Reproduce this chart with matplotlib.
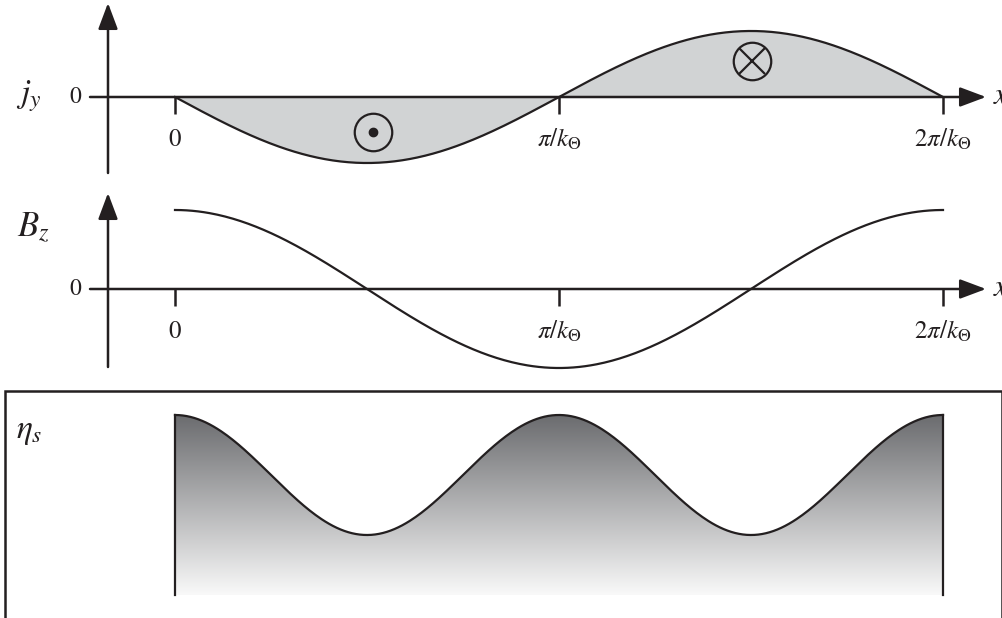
import numpy as np
import matplotlib
matplotlib.use("Agg")
import matplotlib.pyplot as plt
from matplotlib.colors import LinearSegmentedColormap
from matplotlib.patches import Polygon, Rectangle

plt.rcParams['mathtext.fontset'] = 'stix'
plt.rcParams['font.family'] = ['STIXGeneral', 'DejaVu Serif']

# --- chart content ---------------------------------------------------------
x_ticks = [0.0, 1.0, 2.0]                      # in units of pi/k_Theta
x_tick_labels = ['0', r'$\pi/k_{\Theta}$', r'$2\pi/k_{\Theta}$']
j_amplitude = 1.0                              # j_y = -A sin(k x)
b_amplitude = 1.0                              # B_z =  A cos(k x)
eta_amplitude = 1.0                            # eta_s ~ A cos(2 k x)
eta_floor = -2.0                               # lower edge of the shaded eta block
panel_names = [r'$j_y$', r'$B_z$', r'$\eta_s$']

INK = '#231f20'
FILL = '#d1d3d4'

W, H = 1003, 618
fig = plt.figure(figsize=(W / 100, H / 100), dpi=100)

# horizontal pixel mapping shared by every panel: x=0 -> 175px, 1 unit = 384px
X0, XU = 175.0, 384.0
def fx(px):
    return (px - X0) / XU

XLIM = (fx(0), fx(W))


def make_panel(top_px, bot_px, zero_px, unit_px):
    ax = fig.add_axes([0, 1 - bot_px / H, 1, (bot_px - top_px) / H])
    ax.set_xlim(*XLIM)
    ax.set_ylim((zero_px - bot_px) / unit_px, (zero_px - top_px) / unit_px)
    ax.axis('off')
    fy = lambda py: (zero_px - py) / unit_px
    return ax, fy


def draw_axes(ax, fy, y_tip_px, y_bot_px):
    arrow = dict(arrowstyle='-|>,head_length=0.8,head_width=0.3', mutation_scale=20,
                 color=INK, lw=1.8, shrinkA=0, shrinkB=0)
    xv = fx(108)
    ax.annotate('', xy=(xv, fy(y_tip_px)), xytext=(xv, fy(y_bot_px)), arrowprops=arrow)
    ax.annotate('', xy=(fx(986), 0), xytext=(fx(90), 0), arrowprops=arrow)
    ax.plot(x_ticks, [0] * len(x_ticks), ls='none', marker=3, ms=12, mew=1.8, color=INK)
    for xt, lab in zip(x_ticks, x_tick_labels):
        ax.annotate(lab, (xt, 0), xytext=(0, -31), textcoords='offset points',
                    ha='center', va='center', fontsize=18, color=INK)
    ax.text(fx(81), 0, '0', ha='right', va='center', fontsize=17, color=INK)
    ax.text(fx(993), 0, r'$x$', ha='left', va='center', fontsize=22, color=INK)


xs = np.linspace(0, 2, 400)

# --- current density j_y ---------------------------------------------------
ax1, fy1 = make_panel(0, 182, 97, 66)
jy = -j_amplitude * np.sin(np.pi * xs)
ax1.fill_between(xs, jy, 0, color=FILL, lw=0)
ax1.plot(xs, jy, color=INK, lw=1.6)
draw_axes(ax1, fy1, 3, 173)
ax1.text(fx(16), fy1(96), panel_names[0], ha='left', va='center', fontsize=24, color=INK)
# out-of-plane (dot) and into-plane (cross) symbols
ax1.plot(fx(373), fy1(132), marker='o', ms=27, mfc='none', mec=INK, mew=1.6)
ax1.plot(fx(373), fy1(132), marker='o', ms=6, color=INK)
ax1.plot(fx(752), fy1(61), marker='o', ms=27, mfc='none', mec=INK, mew=1.6)
ax1.plot(fx(752), fy1(61), marker='x', ms=19, mec=INK, mew=1.6)

# --- magnetic field B_z ----------------------------------------------------
ax2, fy2 = make_panel(182, 380, 289, 79)
bz = b_amplitude * np.cos(np.pi * xs)
ax2.plot(xs, bz, color=INK, lw=1.6)
draw_axes(ax2, fy2, 193, 367)
ax2.text(fx(17), fy2(236), panel_names[1], ha='left', va='baseline', fontsize=25, color=INK)

# --- resistivity eta_s -----------------------------------------------------
ax3, fy3 = make_panel(380, 618, 475, 60)
eta = eta_amplitude * np.cos(2 * np.pi * xs)
poly = np.vstack([np.column_stack([xs, eta]), [[2, eta_floor], [0, eta_floor]]])
clip = Polygon(poly, closed=True, facecolor='none', edgecolor='none')
ax3.add_patch(clip)
grad = np.linspace(1, 0, 256).reshape(-1, 1)
cmap = LinearSegmentedColormap.from_list('shade', ['#f9f9f9', '#6b6c6f'])
img = ax3.imshow(grad, cmap=cmap, extent=[0, 2, eta_floor, eta_amplitude],
                 aspect='auto', origin='upper', vmin=0, vmax=1, interpolation='bicubic')
img.set_clip_path(clip)
ax3.plot(xs, eta, color=INK, lw=1.6)
ax3.plot([0, 0], [eta_floor, eta[0]], color=INK, lw=1.6)
ax3.plot([2, 2], [eta_floor, eta[-1]], color=INK, lw=1.6)
ax3.text(fx(16), fy3(438), panel_names[2], ha='left', va='baseline', fontsize=24, color=INK)

# frame around the lower panel (open at the bottom edge of the figure)
fig.patches.append(Rectangle((5.5 / W, -0.1), (1002 - 5.5) / W, (H - 391) / H + 0.1,
                             transform=fig.transFigure, fill=False, edgecolor=INK, lw=1.8))

fig.savefig('out.png', dpi=100)
